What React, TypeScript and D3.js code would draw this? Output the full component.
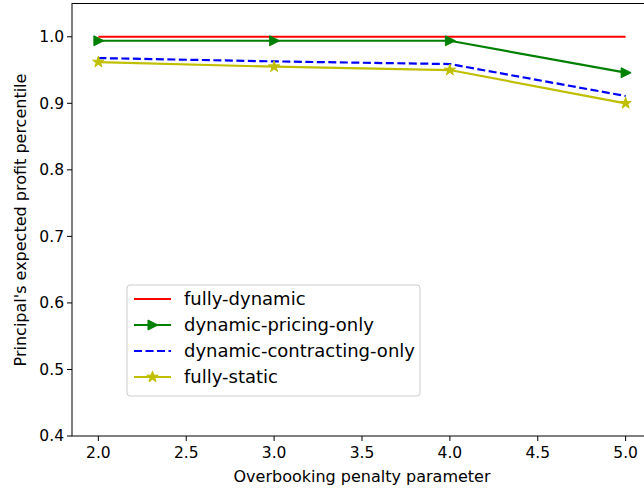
import React from "react";
import * as d3 from "d3";

const xValues = [2.0, 3.0, 4.0, 5.0];
const fullyDynamic = [1.0, 1.0, 1.0, 1.0];
const dynamicPricingOnly = [0.994, 0.994, 0.994, 0.946];
const dynamicContractingOnly = [0.968, 0.963, 0.959, 0.911];
const fullyStatic = [0.962, 0.955, 0.95, 0.9];
const xTicks = [2.0, 2.5, 3.0, 3.5, 4.0, 4.5, 5.0];
const yTicks = [0.4, 0.5, 0.6, 0.7, 0.8, 0.9, 1.0];
const seriesNames = ["fully-dynamic", "dynamic-pricing-only", "dynamic-contracting-only", "fully-static"];

const W = 644, H = 492;
const FONT = "DejaVu Sans";

export default function App() {
  const x = d3.scaleLinear().domain([1.85, 5.15]).range([72, 652]);
  const y = d3.scaleLinear().domain([0.4, 1.05]).range([436, 3.5]);
  const line = d3.line<number>().x((_, i) => x(xValues[i])).y((d) => y(d));

  const series = [
    { name: seriesNames[0], data: fullyDynamic, color: "#ff0000", dash: undefined, marker: "none" },
    { name: seriesNames[1], data: dynamicPricingOnly, color: "#008000", dash: undefined, marker: "tri" },
    { name: seriesNames[2], data: dynamicContractingOnly, color: "#0000ff", dash: "8,3.5", marker: "none" },
    { name: seriesNames[3], data: fullyStatic, color: "#bfbf00", dash: undefined, marker: "star" },
  ];

  const star = d3.symbol().type(d3.symbolStar).size(40)();
  const tri = "M-4.5,-5L5.5,0L-4.5,5Z";

  const marker = (m: string, color: string, cx: number, cy: number, key: string) => {
    if (m === "tri") return <path key={key} d={tri} transform={`translate(${cx},${cy})`} fill={color} stroke={color} strokeWidth={1} />;
    if (m === "star") return <path key={key} d={star!} transform={`translate(${cx},${cy})`} fill={color} stroke={color} strokeWidth={1} />;
    return null;
  };

  const legX = 127, legY = 285;
  return (
    <svg width={W} height={H} style={{ position: "absolute", left: 0, top: 0, background: "#fff" }} fontFamily={FONT}>
      <rect x={0} y={0} width={W} height={H} fill="#fff" />
      <defs>
        <clipPath id="plot">
          <rect x={72} y={3.5} width={600} height={432.5} />
        </clipPath>
      </defs>
      <g clipPath="url(#plot)">
        {series.map((s) => (
          <g key={s.name}>
            <path d={line(s.data)!} fill="none" stroke={s.color} strokeWidth={2.2} strokeDasharray={s.dash} />
            {s.data.map((d, i) => marker(s.marker, s.color, x(xValues[i]), y(d), s.name + i))}
          </g>
        ))}
      </g>
      <rect x={72} y={3.5} width={700} height={432.5} fill="none" stroke="#000" strokeWidth={1} />
      {xTicks.map((t) => (
        <g key={"x" + t} transform={`translate(${x(t)},436)`}>
          <line y1={0} y2={5} stroke="#000" />
          <text y={22} textAnchor="middle" fontSize={15.5} fill="#000">{t.toFixed(1)}</text>
        </g>
      ))}
      {yTicks.map((t) => (
        <g key={"y" + t} transform={`translate(72,${y(t)})`}>
          <line x1={-5} x2={0} stroke="#000" />
          <text x={-8} dy="0.35em" textAnchor="end" fontSize={15.5} fill="#000">{t.toFixed(1)}</text>
        </g>
      ))}
      <text x={362} y={482} textAnchor="middle" fontSize={16} fill="#000">Overbooking penalty parameter</text>
      <text transform={`translate(26,220) rotate(-90)`} textAnchor="middle" fontSize={16} fill="#000">Principal's expected profit percentile</text>
      <rect x={legX} y={legY} width={293} height={111} rx={3} fill="#fff" fillOpacity={0.8} stroke="#ccc" strokeWidth={1} />
      {series.map((s, i) => {
        const ly = legY + 14 + i * 26;
        return (
          <g key={"leg" + s.name}>
            <line x1={134} x2={171} y1={ly} y2={ly} stroke={s.color} strokeWidth={2.2} strokeDasharray={s.dash} />
            {marker(s.marker, s.color, 152.5, ly, "lm" + i)}
            <text x={184} y={ly} dy="0.35em" fontSize={18} fill="#000">{s.name}</text>
          </g>
        );
      })}
    </svg>
  );
}
